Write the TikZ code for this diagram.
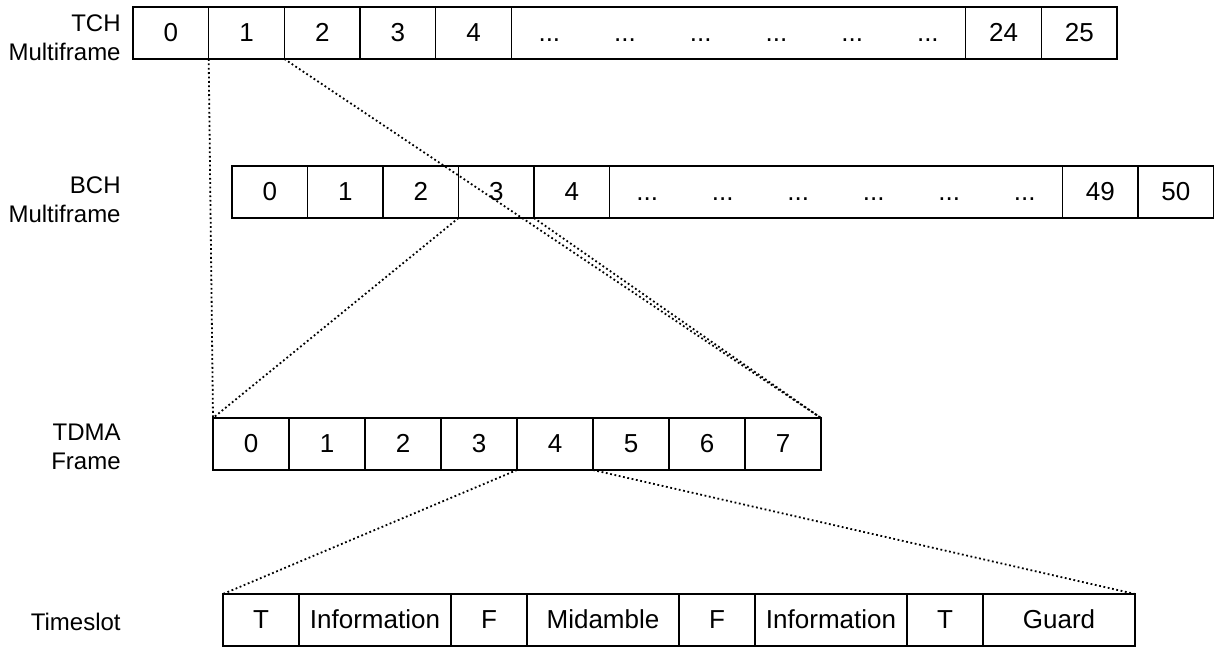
\documentclass[tikz,border=0pt]{standalone}
\usepackage{fontspec}
\setmainfont{Liberation Sans}
\usetikzlibrary{positioning}

\tikzset{
  cell/.style={draw, line width=0.65pt, minimum width=#1, minimum height=26pt, inner sep=0pt, outer sep=0pt,
    font=\fontsize{13pt}{15pt}\selectfont, text height=9.3pt, text depth=0.4pt},
  cell/.default=38pt,
  gap/.style={minimum width=#1, minimum height=26pt, inner sep=0pt, outer sep=0pt,
    font=\fontsize{13pt}{15pt}\selectfont, text height=9.3pt, text depth=0.4pt},
  gap/.default=38pt,
  rowlabel/.style={align=right, anchor=east, inner sep=0pt, font=\fontsize{12pt}{14.5pt}\selectfont},
  zoomline/.style={line width=0.9pt, dash pattern=on 0.9pt off 1.3pt},
}

\begin{document}
\begin{tikzpicture}[x=0.5pt, y=-0.5pt]
        \useasboundingbox (0,0) rectangle (1214,647);

        % TCH multiframe
        \node [rowlabel] (tchlabel) at (121,38) {TCH\\Multiframe};
        \node [cell=37.85pt, anchor=north west] (tch0) at (133,7) {0};
        \node [cell=37.85pt, right=0pt of tch0] (tch1) {1};
        \node [cell=37.85pt, right=0pt of tch1] (tch2) {2};
        \node [cell=37.85pt, right=0pt of tch2] (tch3) {3};
        \node [cell=37.85pt, right=0pt of tch3] (tch4) {4};
        \node [gap=37.85pt, right=0pt of tch4] (tchd1) {...};
        \node [gap=37.85pt, right=0pt of tchd1] (tchd2) {...};
        \node [gap=37.85pt, right=0pt of tchd2] (tchd3) {...};
        \node [gap=37.85pt, right=0pt of tchd3] (tchd4) {...};
        \node [gap=37.85pt, right=0pt of tchd4] (tchd5) {...};
        \node [gap=37.85pt, right=0pt of tchd5] (tchd6) {...};
        \node [cell=37.85pt, right=0pt of tchd6] (tch24) {24};
        \node [cell=37.85pt, right=0pt of tch24] (tch25) {25};
        \draw [line width=0.65pt] (tchd1.north west) rectangle (tchd6.south east);

        % BCH multiframe
        \node [rowlabel] (bchlabel) at (121,200) {BCH\\Multiframe};
        \node [cell=37.75pt, anchor=north west] (bch0) at (232,166) {0};
        \node [cell=37.75pt, right=0pt of bch0] (bch1) {1};
        \node [cell=37.75pt, right=0pt of bch1] (bch2) {2};
        \node [cell=37.75pt, right=0pt of bch2] (bch3) {3};
        \node [cell=37.75pt, right=0pt of bch3] (bch4) {4};
        \node [gap=37.75pt, right=0pt of bch4] (bchd1) {...};
        \node [gap=37.75pt, right=0pt of bchd1] (bchd2) {...};
        \node [gap=37.75pt, right=0pt of bchd2] (bchd3) {...};
        \node [gap=37.75pt, right=0pt of bchd3] (bchd4) {...};
        \node [gap=37.75pt, right=0pt of bchd4] (bchd5) {...};
        \node [gap=37.75pt, right=0pt of bchd5] (bchd6) {...};
        \node [cell=37.75pt, right=0pt of bchd6] (bch49) {49};
        \node [cell=37.75pt, right=0pt of bch49] (bch50) {50};
        \draw [line width=0.65pt] (bchd1.north west) rectangle (bchd6.south east);

        % TDMA frame
        \node [rowlabel] (tdmalabel) at (121,447) {TDMA\\Frame};
        \node [cell, anchor=north west] (tdma0) at (213,418) {0};
        \node [cell, right=0pt of tdma0] (tdma1) {1};
        \node [cell, right=0pt of tdma1] (tdma2) {2};
        \node [cell, right=0pt of tdma2] (tdma3) {3};
        \node [cell, right=0pt of tdma3] (tdma4) {4};
        \node [cell, right=0pt of tdma4] (tdma5) {5};
        \node [cell, right=0pt of tdma5] (tdma6) {6};
        \node [cell, right=0pt of tdma6] (tdma7) {7};

        % timeslot
        \node [rowlabel] (tslabel) at (121,622) {Timeslot};
        \node [cell, anchor=north west] (tst1) at (223,594) {T};
        \node [cell=76pt, right=0pt of tst1] (tsinfo1) {Information};
        \node [cell, right=0pt of tsinfo1] (tsf1) {F};
        \node [cell=76pt, right=0pt of tsf1] (tsmid) {Midamble};
        \node [cell, right=0pt of tsmid] (tsf2) {F};
        \node [cell=76pt, right=0pt of tsf2] (tsinfo2) {Information};
        \node [cell, right=0pt of tsinfo2] (tst2) {T};
        \node [cell=76pt, right=0pt of tst2] (tsguard) {Guard};

        % zoom lines
        \draw [zoomline] (tch1.south west) -- (tdma0.north west);
        \draw [zoomline] (tch1.south east) -- (tdma7.north east);
        \draw [zoomline] (bch3.south west) -- (tdma0.north west);
        \draw [zoomline] (bch3.south east) -- (tdma7.north east);
        \draw [zoomline] (tdma4.south west) -- (tst1.north west);
        \draw [zoomline] (tdma4.south east) -- (tsguard.north east);
    \end{tikzpicture}
\end{document}
